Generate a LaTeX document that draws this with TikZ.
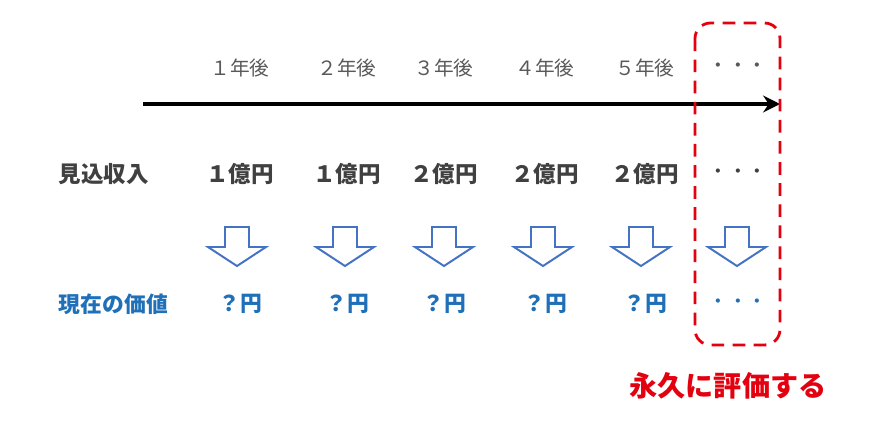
\documentclass[tikz,border=0pt]{standalone}
\usepackage{fontspec}
\setmainfont{Noto Sans CJK JP}
\usetikzlibrary{arrows.meta}

\definecolor{yeargray}{HTML}{595959}
\definecolor{textgray}{HTML}{404040}
\definecolor{valueblue}{HTML}{1F70B8}
\definecolor{arrowblue}{HTML}{4472C4}
\definecolor{markred}{HTML}{E3000F}

\tikzset{
  year/.style={text=yeargray, font=\fontsize{14}{14}\selectfont},
  income/.style={text=textgray, font=\bfseries\fontsize{16}{16}\selectfont},
  present/.style={text=valueblue, font=\bfseries\fontsize{15.5}{15.5}\selectfont},
  dots/.style={font=\fontsize{14}{14}\selectfont},
  downarrow/.style={draw=arrowblue, line width=1.4pt, line join=miter},
  forever/.style={draw=markred, line width=2pt, dashed, dash pattern=on 9pt off 6pt, rounded corners=11pt}
}

\begin{document}
\begin{tikzpicture}[x=0.025cm, y=0.025cm]

    \useasboundingbox (0,0) rectangle (890,-437);

    % time line
    \coordinate (start) at (143,-104);
    \coordinate (end) at (780,-104);
    \draw[line width=2.6pt, -{Stealth[length=12pt, width=12pt, inset=4pt]}] (start) -- (end);

    % row labels
    \node[income, anchor=west] (incomelabel) at (54,-174) {見込収入};
    \node[present, anchor=west] (presentlabel) at (54,-304) {現在の価値};

    % years, income and present value
    \foreach \n/\x/\yr/\amt in {1/240/１/１,2/347/２/１,3/444/３/２,4/545/４/２,5/645/５/２}
    {
    \node[year] (year\n) at (\x,-68) {\yr 年後};
    \node[income] (income\n) at (\x,-174) {\amt 億円};
    \node[present] (value\n) at (\x,-304) {？円};
    }

    \node[dots, text=yeargray] (yeardots) at (738,-68) {・・・};
    \node[dots, text=textgray] (incomedots) at (738,-174) {・・・};
    \node[dots, text=valueblue] (valuedots) at (738,-304) {・・・};

    % down arrows
    \foreach \x in {237,345,444,543,641,737}
    \draw[downarrow] (\x-12,-227) -- (\x+12,-227) -- (\x+12,-247) -- (\x+29,-247)
        -- (\x,-266) -- (\x-29,-247) -- (\x-12,-247) -- cycle;

    % perpetuity box
    \draw[forever] (695,-23) rectangle (780,-345);
    \node[text=markred, font=\bfseries\fontsize{20}{20}\selectfont] (perpetual) at (728,-386) {永久に評価する};

\end{tikzpicture}
\end{document}
